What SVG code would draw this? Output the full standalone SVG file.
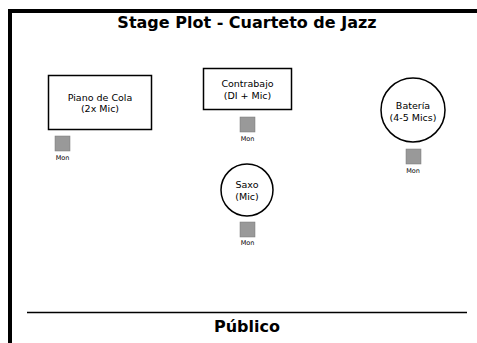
<svg xmlns="http://www.w3.org/2000/svg" width="477" height="343" viewBox="0 0 477 343">
<style>
.t{font-family:"DejaVu Sans",sans-serif;font-size:16px;font-weight:bold;text-anchor:middle;fill:#000}
.l{font-family:"DejaVu Sans",sans-serif;font-size:9.5px;text-anchor:middle;fill:#000}
.m{font-family:"DejaVu Sans",sans-serif;font-size:6.5px;text-anchor:middle;fill:#000}
.n{fill:#fff;stroke:#000;stroke-width:1.5}
.mon{fill:#999;stroke:#777;stroke-width:0.5}
</style>
<rect width="477" height="343" fill="#fff"/>
<rect x="10" y="11" width="520" height="400" fill="none" stroke="#000" stroke-width="4"/>
<text class="t" x="247" y="28">Stage Plot - Cuarteto de Jazz</text>
<g id="connectors"></g>
<g id="piano">
<rect class="n" x="48.5" y="75.5" width="103" height="54"/>
<text class="l" x="100" y="101">Piano de Cola</text>
<text class="l" x="100" y="112">(2x Mic)</text>
<rect class="mon" x="55" y="136" width="15" height="15"/>
<text class="m" x="62.5" y="160">Mon</text>
</g>
<g id="contrabajo">
<rect class="n" x="203.5" y="68.5" width="88" height="41"/>
<text class="l" x="247.5" y="87">Contrabajo</text>
<text class="l" x="247.5" y="99">(DI + Mic)</text>
<rect class="mon" x="240" y="117" width="15" height="15"/>
<text class="m" x="247.5" y="141">Mon</text>
</g>
<g id="bateria">
<circle class="n" cx="413" cy="110" r="32"/>
<text class="l" x="413" y="109">Batería</text>
<text class="l" x="413" y="121">(4-5 Mics)</text>
<rect class="mon" x="406" y="149" width="15" height="15"/>
<text class="m" x="413" y="173">Mon</text>
</g>
<g id="saxo">
<circle class="n" cx="247" cy="190" r="26"/>
<text class="l" x="247" y="188">Saxo</text>
<text class="l" x="247" y="200">(Mic)</text>
<rect class="mon" x="240" y="222" width="15" height="15"/>
<text class="m" x="247.5" y="245">Mon</text>
</g>
<line x1="27" y1="312.5" x2="467" y2="312.5" stroke="#000" stroke-width="1.5"/>
<text class="t" x="247" y="332">Público</text>
</svg>
